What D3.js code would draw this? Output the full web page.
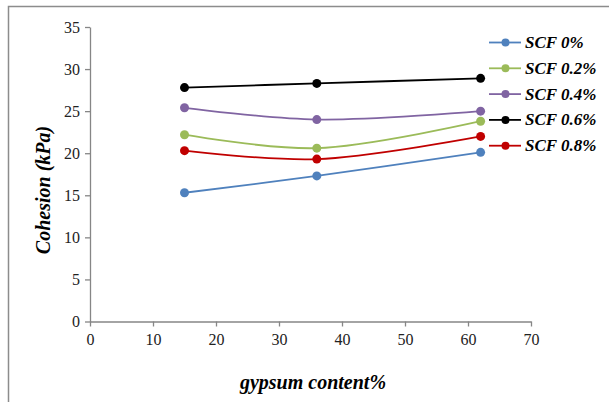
<!DOCTYPE html>
<html><head><meta charset="utf-8">
<script src="https://cdn.jsdelivr.net/npm/d3@7"></script>
</head><body style="margin:0">
<svg id="c" width="609" height="402"></svg>
<script>
const gypsum = [15, 36, 62];
const seriesNames = ["SCF 0%", "SCF 0.2%", "SCF 0.4%", "SCF 0.6%", "SCF 0.8%"];
const scf0 = [15.3, 17.3, 20.1];
const scf02 = [22.2, 20.6, 23.8];
const scf04 = [25.4, 24.0, 25.0];
const scf06 = [27.8, 28.3, 28.9];
const scf08 = [20.3, 19.3, 22.0];
const colors = ["#4F81BD", "#9BBB59", "#8064A2", "#000000", "#C00000"];
const xTicks = [0, 10, 20, 30, 40, 50, 60, 70];
const yTicks = [0, 5, 10, 15, 20, 25, 30, 35];
const seriesVals = [scf0, scf02, scf04, scf06, scf08];

const font = "Times New Roman";
const svg = d3.select("#c");

svg.append("path").attr("d","M8.5,402 V6.5 H609").attr("fill","none").attr("stroke","#8c8c8c").attr("stroke-width",1.5);

const x = d3.scaleLinear().domain([0,70]).range([90,531]);
const y = d3.scaleLinear().domain([0,35]).range([321.5,27]);

const xa = svg.append("g").attr("transform","translate(0,321.5)")
  .call(d3.axisBottom(x).tickValues(xTicks).tickSize(5).tickSizeOuter(0).tickPadding(7));
const ya = svg.append("g").attr("transform","translate(90,0)")
  .call(d3.axisLeft(y).tickValues(yTicks).tickSize(5).tickSizeOuter(0).tickPadding(5));
[xa,ya].forEach(a=>{
  a.attr("font-family",font).attr("font-size",16);
  a.select(".domain").attr("stroke","#868686").attr("stroke-width",1.3);
  a.selectAll(".tick line").attr("stroke","#868686").attr("stroke-width",1.3);
  a.selectAll(".tick text").attr("font-family",font).attr("font-size",16).attr("fill","#222");
});

const line = d3.line().x((d,i)=>x(gypsum[i])).y(d=>y(d)).curve(d3.curveCatmullRom.alpha(0.5));
seriesVals.forEach((vals,k)=>{
  svg.append("path").attr("d",line(vals)).attr("fill","none").attr("stroke",colors[k]).attr("stroke-width",1.8);
  svg.selectAll(null).data(vals).enter().append("circle")
    .attr("cx",(d,i)=>x(gypsum[i])).attr("cy",d=>y(d)).attr("r",4.5).attr("fill",colors[k]);
});

seriesNames.forEach((n,k)=>{
  const yy = 42.5 + k*25.8;
  svg.append("line").attr("x1",489).attr("x2",521).attr("y1",yy).attr("y2",yy).attr("stroke",colors[k]).attr("stroke-width",1.8);
  svg.append("circle").attr("cx",505.5).attr("cy",yy).attr("r",4).attr("fill",colors[k]);
  svg.append("text").attr("x",525).attr("y",yy+5.5).attr("font-family",font).attr("font-size",17)
    .attr("font-style","italic").attr("font-weight","bold").text(n);
});

svg.append("text").attr("transform","translate(50,190) rotate(-90)").attr("text-anchor","middle")
  .attr("font-family",font).attr("font-size",20).attr("font-style","italic").attr("font-weight","bold")
  .text("Cohesion (kPa)");
svg.append("text").attr("x",313).attr("y",389).attr("text-anchor","middle")
  .attr("font-family",font).attr("font-size",20).attr("font-style","italic").attr("font-weight","bold")
  .text("gypsum content%");
</script>
</body></html>
